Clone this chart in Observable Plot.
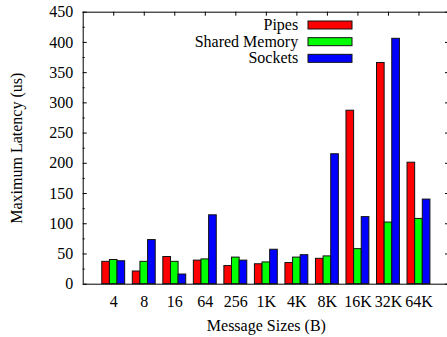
<!DOCTYPE html>
<html><head><meta charset="utf-8">
<script src="https://cdn.jsdelivr.net/npm/d3@7"></script>
<script src="https://cdn.jsdelivr.net/npm/@observablehq/plot@0.6"></script>
<style>
html,body{margin:0;padding:0;background:#fff;}
svg{display:block}
#chart svg, #chart svg text { font-family: "Liberation Serif", "DejaVu Serif", serif !important; }
</style>
</head><body><div id="chart"></div>
<script>
const sizes = ["4","8","16","64","256","1K","4K","8K","16K","32K","64K"];
const seriesNames = ["Pipes","Shared Memory","Sockets"];
const seriesColors = ["#ff0000","#00ff00","#0000ff"];
const pipes = [37,21,45,39,30,33,35,42,287,366,201];
const sharedMemory = [40,37,37,41,44,36,44,46,58,102,108];
const sockets = [38,73,16,114,39,57,48,215,111,406,140];
const yTicks = [0,50,100,150,200,250,300,350,400,450];
const yMinorTicks = [25,75,125,175,225,275,325,375,425];

const seriesValues = [pipes, sharedMemory, sockets];
const rows = [];
sizes.forEach((s, i) => {
  seriesValues.forEach((vals, j) => {
    const x1 = i + 1 - 0.375 + j * 0.25;
    rows.push({size: s, series: seriesNames[j], x1, x2: x1 + 0.25, value: vals[i]});
  });
});
const catPos = sizes.map((s, i) => i + 1);

const W = 447, H = 337;
const mL = 82.7, mT = 11.7, mB = 53.3, mR = 0;
const plotW = W - mL - mR, plotH = H - mT - mB;
const font = "Liberation Serif";

const legendMarks = [];
seriesNames.forEach((name, i) => {
  const cy = 24.5 + i * 16.67;
  legendMarks.push(Plot.text([name], {text: d => d, frameAnchor: "top-left", dx: 297.7 - mL, dy: cy - mT, textAnchor: "end", lineAnchor: "middle", fill: "black", fontFamily: font, fontSize: 16}));
  legendMarks.push(Plot.frame({fill: seriesColors[i], stroke: "#111", strokeWidth: 1,
    insetLeft: 307.5 - mL, insetRight: W - 351.5, insetTop: cy - 4 - mT, insetBottom: (H - mB) - (cy + 4)}));
});

const chart = Plot.plot({
  width: W, height: H,
  marginLeft: mL, marginTop: mT, marginBottom: mB, marginRight: mR,
  style: {fontFamily: font, fontSize: "16px", color: "black", background: "white", overflow: "hidden"},
  x: {type: "linear", domain: [0, 12], range: [mL, 449]},
  y: {domain: [0, 450]},
  color: {domain: seriesNames, range: seriesColors},
  marks: [
    Plot.rectY(rows, {x1: "x1", x2: "x2", y: "value", fill: "series", stroke: "#111", strokeWidth: 1}),
    Plot.ruleY([0, 450], {stroke: "black", strokeWidth: 1}),
    Plot.ruleX([0], {stroke: "black", strokeWidth: 1}),
    Plot.tickY(yTicks, {y: d => d, insetRight: plotW - 4, stroke: "black"}),
    Plot.tickY(yMinorTicks, {y: d => d, insetRight: plotW - 2, stroke: "black"}),
    Plot.tickY(yTicks, {y: d => d, insetLeft: plotW - 2, stroke: "black"}),
    Plot.tickX(catPos, {x: d => d, insetBottom: plotH - 4, stroke: "black"}),
    Plot.axisY(yTicks, {tickSize: 0, tickPadding: 10, label: null, fontSize: 16, fontFamily: font}),
    Plot.axisX(catPos, {tickSize: 0, tickPadding: 11.5, tickFormat: d => sizes[d - 1], label: null, fontSize: 16, fontFamily: font}),
    Plot.text(["Maximum Latency (us)"], {text: d => d, frameAnchor: "left", dx: 16.7 - mL, rotate: -90, textAnchor: "middle", lineAnchor: "middle", fill: "black", fontFamily: font, fontSize: 16}),
    Plot.text(["Message Sizes (B)"], {text: d => d, frameAnchor: "bottom", dx: 1, dy: 41.3, textAnchor: "middle", lineAnchor: "middle", fill: "black", fontFamily: font, fontSize: 16}),
    ...legendMarks
  ]
});
document.getElementById("chart").appendChild(chart);
</script>
</body></html>
